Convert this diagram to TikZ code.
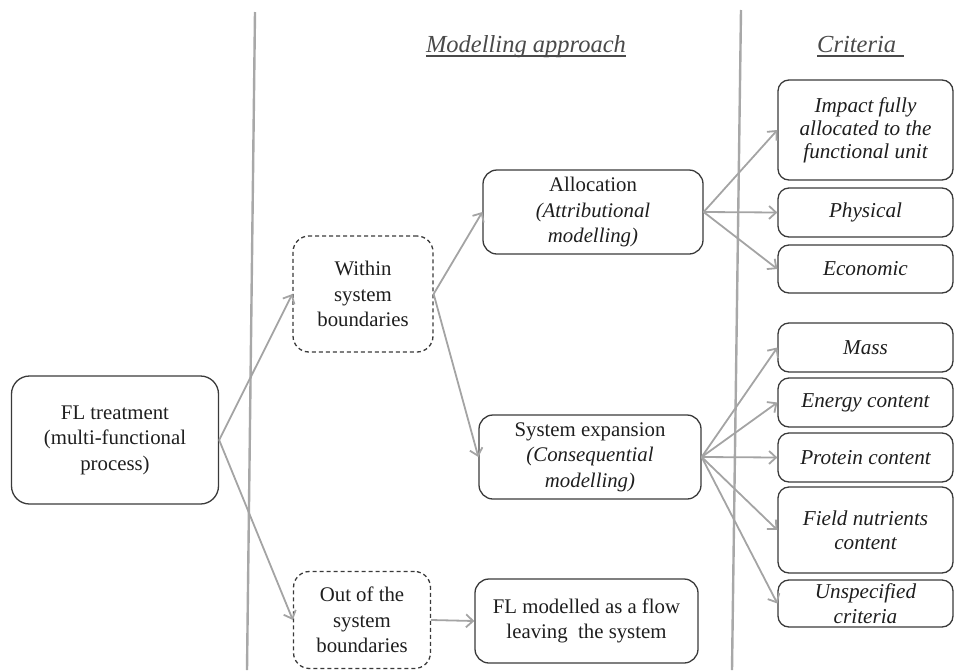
\documentclass[tikz,border=0pt]{standalone}
\usepackage{fontspec}
\setmainfont{Liberation Serif}
\usetikzlibrary{arrows.meta,calc}
\definecolor{boxline}{HTML}{3A3A3A}
\definecolor{flowgray}{HTML}{A4A4A4}
\definecolor{rulegray}{HTML}{A8A8A8}
\definecolor{headgray}{HTML}{4A4A4A}
\definecolor{txt}{HTML}{1E1E1E}
\tikzset{
  box/.style={draw=boxline, line width=1.3pt, rounded corners=14pt, inner sep=0pt,
    align=center, text=txt, font=\fontsize{20.8}{25.5}\selectfont},
  dbox/.style={box, dashed, dash pattern=on 4pt off 3pt, rounded corners=16pt},
  crit/.style={box, rounded corners=11pt, minimum width=175pt,
    font=\itshape\fontsize{21.2}{24.5}\selectfont},
  flow/.style={draw=flowgray, line width=1.8pt,
    -{Straight Barb[length=7pt,width=13pt]}},
  divider/.style={draw=rulegray, line width=2.4pt},
  heading/.style={anchor=base, text=headgray, inner sep=0pt,
    font=\itshape\fontsize{24.5}{28}\selectfont},
  headrule/.style={draw=headgray, line width=1.7pt}
}
\begin{document}
\begin{tikzpicture}[x=1pt, y=-1pt]
\useasboundingbox (0,0) rectangle (956,670);

% column dividers
\coordinate (d1top) at (255,12);
\coordinate (d1bot) at (247,670);
\coordinate (d2top) at (741,10);
\coordinate (d2bot) at (732,670);
\draw[divider] (d1top) -- (d1bot);
\draw[divider] (d2top) -- (d2bot);

% column headings, underlined
\node[heading] (hmod) at (526,52) {Modelling approach};
\node[heading, anchor=base west] (hcrit) at (817,52) {Criteria};
\draw[headrule] ($(hmod.base west)+(0,4)$) -- ($(hmod.base east)+(0,4)$);
\draw[headrule] ($(hcrit.base west)+(0,4)$) -- ($(hcrit.base east)+(8,4)$);

% process and system boundary choices
\node[box, rounded corners=18pt, minimum width=207pt, minimum height=128pt] (fl) at (115,440)
  {FL treatment\\(multi-functional\\process)};
\node[dbox, minimum width=140pt, minimum height=116pt] (within) at (363,294)
  {Within\\system\\boundaries};
\node[dbox, minimum width=137pt, minimum height=97pt] (out) at (362,620)
  {Out of the\\system\\boundaries};

% modelling approaches
\node[box, minimum width=220pt, minimum height=84pt] (alloc) at (593,212)
  {Allocation\\\textit{(Attributional}\\\textit{modelling)}};
\node[box, minimum width=222pt, minimum height=84pt] (sysexp) at (590,457)
  {System expansion\\\textit{(Consequential}\\\textit{modelling)}};
\node[box, minimum width=223pt, minimum height=84pt] (flflow) at (586.5,621)
  {FL modelled as a flow\\leaving\ \ the system};

% criteria
\node[crit, minimum height=100pt, font=\itshape\fontsize{21.2}{23}\selectfont] (impact) at (865.5,130)
  {Impact fully\\allocated to the\\functional unit};
\node[crit, minimum height=49pt] (physical) at (865.5,212.5) {Physical};
\node[crit, minimum height=48pt] (economic) at (865.5,269) {Economic};
\node[crit, minimum height=49pt] (mass) at (865.5,347.5) {Mass};
\node[crit, minimum height=49pt] (energy) at (865.5,402.5) {Energy content};
\node[crit, minimum height=49pt] (protein) at (865.5,457.5) {Protein content};
\node[crit, minimum height=86pt] (field) at (865.5,530) {Field nutrients\\content};
\node[crit, minimum height=47pt] (unspec) at (865.5,603.5) {Unspecified\\criteria};

% connectors
\draw[flow] (fl.east) -- (within.west);
\draw[flow] (fl.east) -- (out.west);
\draw[flow] (within.east) -- (alloc.west);
\draw[flow] (within.east) -- (sysexp.west);
\draw[flow] (out.east) -- (flflow.west);
\foreach \c in {impact,physical,economic}
  \draw[flow] (alloc.east) -- (\c.west);
\foreach \c in {mass,energy,protein,field,unspec}
  \draw[flow] (sysexp.east) -- (\c.west);
\end{tikzpicture}
\end{document}
